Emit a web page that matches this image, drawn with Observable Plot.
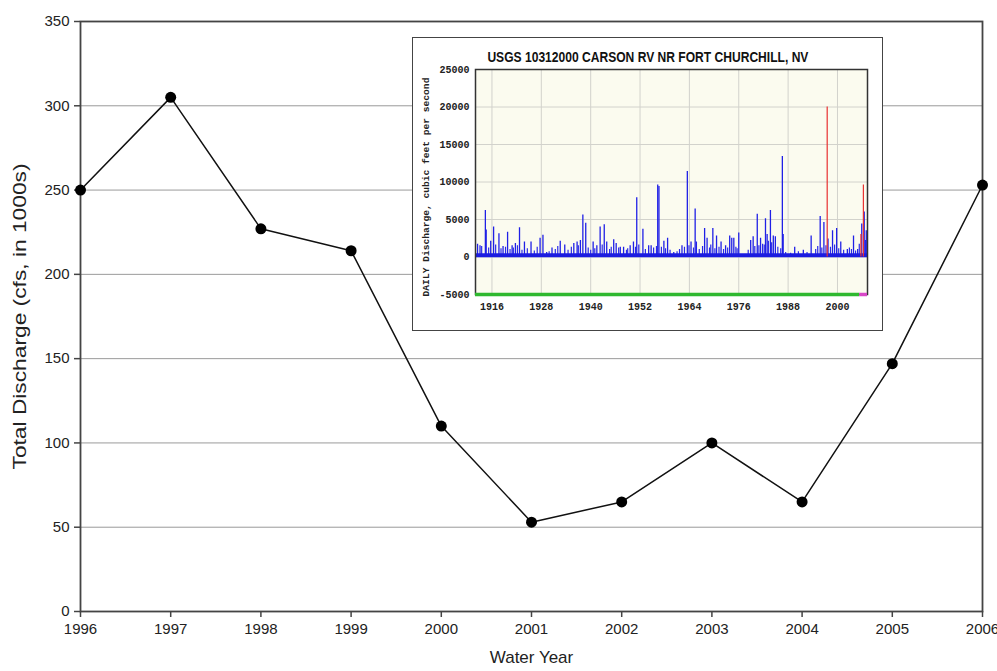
<!DOCTYPE html>
<html>
<head>
<meta charset="utf-8">
<script src="https://cdn.jsdelivr.net/npm/d3@7"></script>
<script src="https://cdn.jsdelivr.net/npm/@observablehq/plot@0.6"></script>
<style>
  html, body { margin: 0; padding: 0; background: #fff; }
  #wrap { position: relative; width: 997px; height: 671px; overflow: hidden; }
  #inset { position: absolute; left: 412px; top: 37px; width: 469px; height: 292px;
           border: 1.5px solid #444; background: #fff; }
</style>
</head>
<body>
<div id="wrap">
  <div id="main"></div>
  <div id="inset"></div>
</div>
<script>
// ---- Main chart data ----
const waterYears = [1996, 1997, 1998, 1999, 2000, 2001, 2002, 2003, 2004, 2005, 2006];
const totalDischarge = [250, 305, 227, 214, 110, 53, 65, 100, 65, 147, 253];
const mainYTicks = [0, 50, 100, 150, 200, 250, 300, 350];
const mainGridLines = [50, 100, 150, 200, 250, 300];
const mainXTicks = [1996, 1997, 1998, 1999, 2000, 2001, 2002, 2003, 2004, 2005, 2006];
const mainYTitle = "Total Discharge (cfs, in 1000s)";
const mainXTitle = "Water Year";

// ---- Inset data (daily discharge spikes) ----
const insetTitle = "USGS 10312000 CARSON RV NR FORT CHURCHILL, NV";
const insetYLabel = "DAILY Discharge, cubic feet per second";
const spikeYears = [1912.5, 1913.1, 1914.4, 1914.6, 1915.7, 1916.4, 1917.7, 1918.7, 1919.8, 1920.9,
  1921.7, 1922.7, 1923.9, 1925.5, 1927.7, 1928.4, 1929.3, 1930.6, 1932.6, 1933.7,
  1935.9, 1936.7, 1937.5, 1938.1, 1938.8, 1940.6, 1941.5, 1942.3, 1943.3, 1943.9,
  1945.6, 1946.2, 1947.2, 1948.0, 1949.6, 1950.4, 1951.2, 1952.7, 1954.1, 1954.7,
  1956.3, 1956.6, 1957.8, 1958.7, 1960.2, 1962.2, 1963.5, 1964.4, 1965.4, 1965.7,
  1967.7, 1968.3, 1969.7, 1970.6, 1971.7, 1972.8, 1973.8, 1974.3, 1974.8, 1976.0,
  1978.9, 1979.5, 1980.5, 1981.3, 1982.5, 1982.9, 1983.7, 1984.4, 1984.9, 1986.6,
  1986.8, 1989.6, 1991.7, 1993.6, 1995.8, 1996.7, 1997.7, 1998.8, 1999.8, 2000.8,
  2002.4, 2003.9, 2004.9, 2005.9, 2006.5, 2007.0];
const spikeValues = [1700, 1500, 6200, 3600, 2100, 4000, 3100, 1400, 3300, 1500,
  1800, 3900, 2000, 2000, 2500, 2900, 600, 1200, 2100, 1600,
  1800, 2000, 2200, 5600, 4500, 2000, 1500, 4000, 4300, 2000,
  2300, 1800, 1300, 1300, 1500, 2000, 7900, 3700, 1500, 1500,
  9600, 9400, 2100, 2500, 600, 1500, 11400, 2000, 6400, 2000,
  3800, 2500, 3800, 2800, 2000, 1500, 2800, 2500, 2500, 3200,
  2200, 2700, 5700, 2500, 5100, 3000, 6200, 2800, 2700, 13400,
  3000, 1300, 900, 2800, 5400, 4600, 2400, 3500, 3800, 2000,
  1000, 2800, 1000, 4400, 6000, 3500];
const minorYears = [1913.5, 1915.2, 1916.9, 1918.2, 1919.3, 1920.4, 1921.2, 1922.2, 1923.3, 1924.6,
  1926.3, 1927.0, 1929.9, 1931.4, 1932.0, 1934.5, 1935.3, 1937.0, 1939.4, 1940.0,
  1941.0, 1942.8, 1944.6, 1945.0, 1946.8, 1948.7, 1949.0, 1950.9, 1951.7, 1953.3,
  1955.3, 1956.0, 1957.2, 1958.2, 1959.3, 1961.0, 1961.6, 1962.8, 1963.9, 1965.0,
  1966.4, 1967.2, 1968.9, 1969.2, 1970.2, 1971.2, 1972.3, 1973.3, 1975.3, 1975.6,
  1977.2, 1978.3, 1979.9, 1980.9, 1981.8, 1982.2, 1983.2, 1984.0, 1985.5, 1986.2,
  1987.4, 1988.6, 1990.5, 1992.6, 1994.7, 1995.2, 1996.2, 1997.2, 1998.3, 1999.3,
  2000.3, 2001.5, 2002.9, 2003.4, 2004.4, 2005.3, 2006.8];
const minorValues = [1400, 1200, 1600, 1100, 1300, 1000, 1200, 1500, 900, 1100,
  800, 1300, 700, 1000, 1400, 900, 1300, 1500, 1200, 900,
  1100, 1600, 1000, 1300, 1200, 900, 1100, 1300, 1600, 1000,
  1200, 1400, 1300, 1100, 900, 700, 1000, 1300, 1500, 1200,
  1000, 1400, 1200, 1600, 1100, 1300, 1000, 1200, 1300, 1100,
  300, 900, 1400, 1500, 1700, 1600, 2100, 1900, 1300, 1100,
  600, 500, 700, 600, 1000, 1400, 1200, 1500, 1300, 1600,
  1100, 900, 1200, 1000, 800, 1700, 2200];
const provisionalYears = [1997.5, 2005.7, 2006.3];
const provisionalValues = [20000, 3000, 9600];
const baseFlow = 250;
const insetYTicks = [-5000, 0, 5000, 10000, 15000, 20000, 25000];
const insetGridY = [0, 5000, 10000, 15000, 20000];
const insetXTicks = [1916, 1928, 1940, 1952, 1964, 1976, 1988, 2000];
const recordStart = 1912, recordEnd = 2007.3, provisionalStart = 2005.4;

// ---- Main chart ----
const mainData = waterYears.map((y, i) => ({year: y, q: totalDischarge[i]}));
const main = Plot.plot({
  width: 997, height: 671,
  marginLeft: 80, marginRight: 15, marginTop: 21, marginBottom: 60,
  style: {fontFamily: "'Liberation Sans', Arial, sans-serif", fontSize: "15px", color: "#222", background: "#fff"},
  x: {domain: [1996, 2006]},
  y: {domain: [0, 350]},
  marks: [
    Plot.ruleY(mainGridLines, {stroke: "#9a9a9a", strokeWidth: 1}),
    Plot.axisY(mainYTicks, {tickSize: 6, tickPadding: 5, label: null, tickFormat: d => String(d), stroke: "#444", strokeWidth: 1.5}),
    Plot.axisX(mainXTicks, {tickSize: 6, tickPadding: 6, label: null, tickFormat: d => String(d), stroke: "#444", strokeWidth: 1.5}),
    Plot.frame({stroke: "#444", strokeWidth: 1.8}),
    Plot.line(mainData, {x: "year", y: "q", stroke: "#111", strokeWidth: 1.5}),
    Plot.dot(mainData, {x: "year", y: "q", r: 5.5, fill: "#000", stroke: "none"}),
    Plot.text([mainYTitle], {frameAnchor: "left", textAnchor: "middle", dx: -60, rotate: -90, fontSize: 18, fill: "#222"}),
    Plot.text([mainXTitle], {frameAnchor: "bottom", textAnchor: "middle", dy: 51, fontSize: 17, fill: "#222"})
  ]
});
document.getElementById("main").appendChild(main);
d3.select(main).selectAll("text").filter(function() { return this.textContent === mainYTitle; })
  .attr("textLength", 306).attr("lengthAdjust", "spacingAndGlyphs");

// ---- Inset chart ----
const spikes = spikeYears.map((t, i) => ({t, v: spikeValues[i]}));
const minors = minorYears.map((t, i) => ({t, v: minorValues[i]}));
const prov = provisionalYears.map((t, i) => ({t, v: provisionalValues[i]}));
const inset = Plot.plot({
  width: 469, height: 292,
  marginLeft: 62, marginRight: 15, marginTop: 31, marginBottom: 36,
  style: {fontFamily: "'Liberation Mono', 'DejaVu Sans Mono', monospace", fontSize: "10px", color: "#222", background: "#fff", overflow: "visible"},
  x: {domain: [recordStart, recordEnd]},
  y: {domain: [-5000, 25000]},
  marks: [
    Plot.frame({fill: "#fbfbef", stroke: "none"}),
    Plot.ruleX(insetXTicks, {stroke: "#d2d2cc", strokeWidth: 1}),
    Plot.ruleY(insetGridY, {stroke: "#d2d2cc", strokeWidth: 1}),
    Plot.ruleX(minors, {x: "t", y1: 0, y2: "v", stroke: "#2a2ae8", strokeWidth: 1.2}),
    Plot.ruleX(spikes, {x: "t", y1: 0, y2: "v", stroke: "#2020e6", strokeWidth: 1.3}),
    Plot.ruleY([baseFlow], {x1: recordStart, x2: recordEnd, stroke: "#1c1ce0", strokeWidth: 4}),
    Plot.ruleX(prov, {x: "t", y1: 0, y2: "v", stroke: "#e83030", strokeWidth: 1.2}),
    Plot.frame({stroke: "#333", strokeWidth: 1.5}),
    Plot.ruleY([-5000], {x1: recordStart, x2: provisionalStart, stroke: "#2fb82f", strokeWidth: 3.5}),
    Plot.ruleY([-5000], {x1: provisionalStart, x2: recordEnd, stroke: "#d848c8", strokeWidth: 3.5}),
    Plot.axisY(insetYTicks, {tickSize: 0, tickPadding: 6, label: null, tickFormat: d => String(d), fontWeight: "bold", fontSize: 10}),
    Plot.axisX(insetXTicks, {tickSize: 0, tickPadding: 8, label: null, tickFormat: d => String(d), fontWeight: "bold", fontSize: 10}),
    Plot.text([insetYLabel], {frameAnchor: "left", textAnchor: "middle", dx: -50, dy: 5, rotate: -90, fontWeight: "bold", fontSize: 9.6, fill: "#222"}),
    Plot.text([insetTitle], {frameAnchor: "top", textAnchor: "middle", dx: -23.6, dy: -18, fontFamily: "'Liberation Sans Narrow', 'Liberation Sans', Arial, sans-serif", fontWeight: "bold", fontSize: 15, fill: "#111"})
  ]
});
document.getElementById("inset").appendChild(inset);
d3.select(inset).selectAll("text").filter(function() { return this.textContent === insetTitle; })
  .attr("textLength", 321).attr("lengthAdjust", "spacingAndGlyphs");
</script>
</body>
</html>
